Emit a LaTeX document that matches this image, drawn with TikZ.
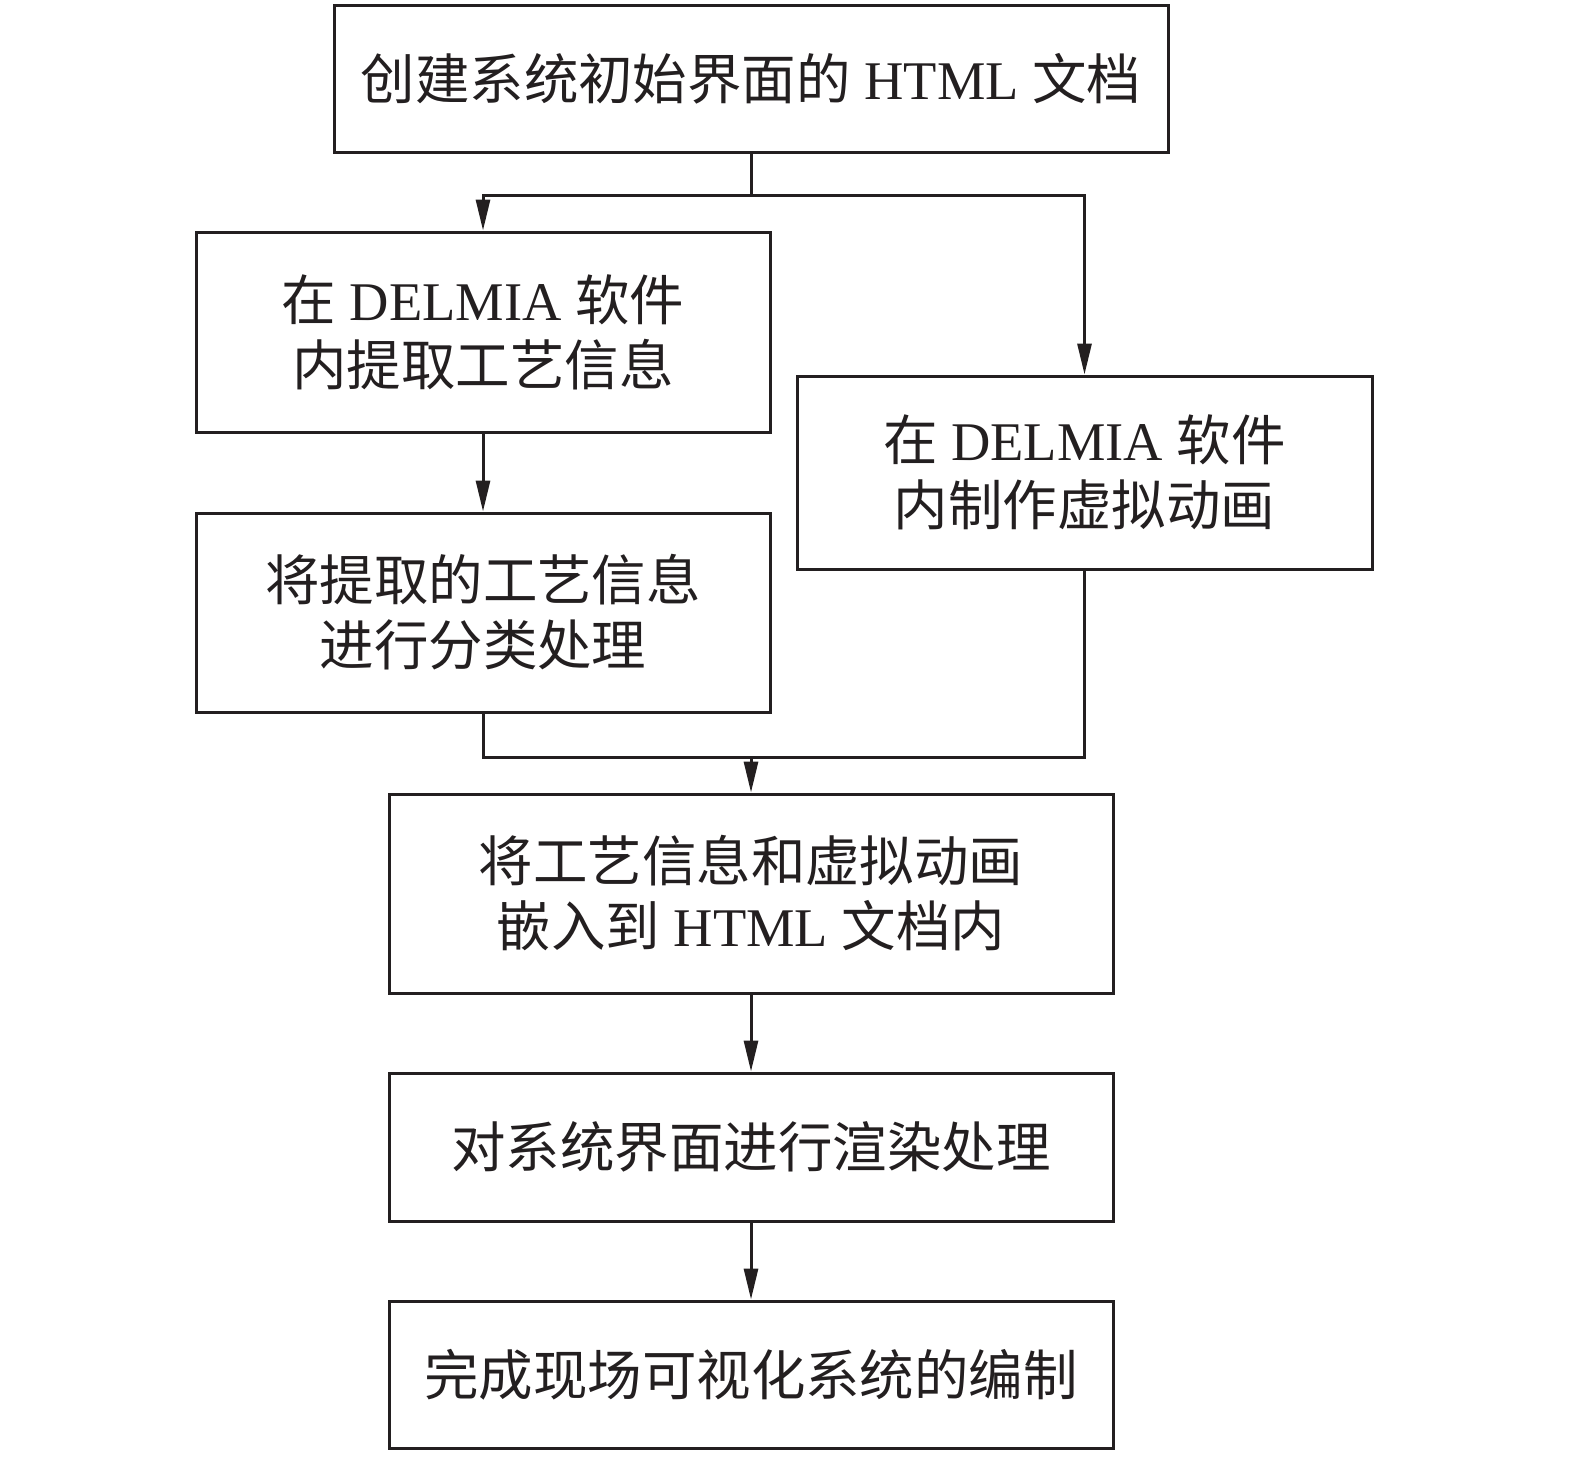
\documentclass[tikz,border=0pt]{standalone}
\usepackage{fontspec}
\usepackage{tikz}
\usetikzlibrary{arrows.meta, positioning, calc}
\setmainfont{Liberation Serif}
\newfontfamily\cjk{Noto Sans CJK SC}
\newcommand{\zh}[1]{{\cjk #1}}
\definecolor{flowline}{HTML}{231F20}

\begin{document}
\begin{tikzpicture}[
  stepbox/.style={
    rectangle,
    draw=flowline,
    line width=0.06cm,
    align=center,
    inner sep=0pt,
    font=\fontsize{31}{37}\selectfont,
    text=flowline
  },
  link/.style={flowline, line width=0.06cm},
  arrowlink/.style={link, -{Triangle[width=0.28cm,length=0.62cm]}}
]
  \useasboundingbox (0,0) rectangle (31.5,-29.18);

  % Top
  \node[stepbox, minimum width=16.68cm, minimum height=2.94cm] (create) at (15.02,-1.57) {\zh{创建系统初始界面的} HTML \zh{文档}};

  % Two branches
  \node[stepbox, minimum width=11.48cm, minimum height=4.0cm] (extract) at (9.66,-6.64) {\zh{在} DELMIA \zh{软件}\\\zh{内提取工艺信息}};
  \node[stepbox, minimum width=11.5cm, minimum height=3.86cm] (animate) at (21.69,-9.45) {\zh{在} DELMIA \zh{软件}\\\zh{内制作虚拟动画}};
  \node[stepbox, minimum width=11.48cm, minimum height=3.98cm] (classify) at (9.66,-12.25) {\zh{将提取的工艺信息}\\\zh{进行分类处理}};

  % Bottom column
  \node[stepbox, minimum width=14.48cm, minimum height=3.98cm] (embed) at (15.02,-17.87) {\zh{将工艺信息和虚拟动画}\\\zh{嵌入到} HTML \zh{文档内}};
  \node[stepbox, minimum width=14.48cm, minimum height=2.96cm] (render) at (15.02,-22.94) {\zh{对系统界面进行渲染处理}};
  \node[stepbox, minimum width=14.48cm, minimum height=2.94cm] (finish) at (15.02,-27.49) {\zh{完成现场可视化系统的编制}};

  \coordinate (split) at (15.02,-3.9);
  \coordinate (join) at (15.02,-15.14);

  % Connectors
  \draw[link] (create.south) -- (split);
  \draw[arrowlink] (split) -| (extract.north);
  \draw[arrowlink] (split) -| (animate.north);
  \draw[arrowlink] (extract.south) -- (classify.north);
  \draw[link] (classify.south) |- (join);
  \draw[link] (animate.south) |- (join);
  \draw[arrowlink] (join) -- (embed.north);
  \draw[arrowlink] (embed.south) -- (render.north);
  \draw[arrowlink] (render.south) -- (finish.north);
\end{tikzpicture}
\end{document}
